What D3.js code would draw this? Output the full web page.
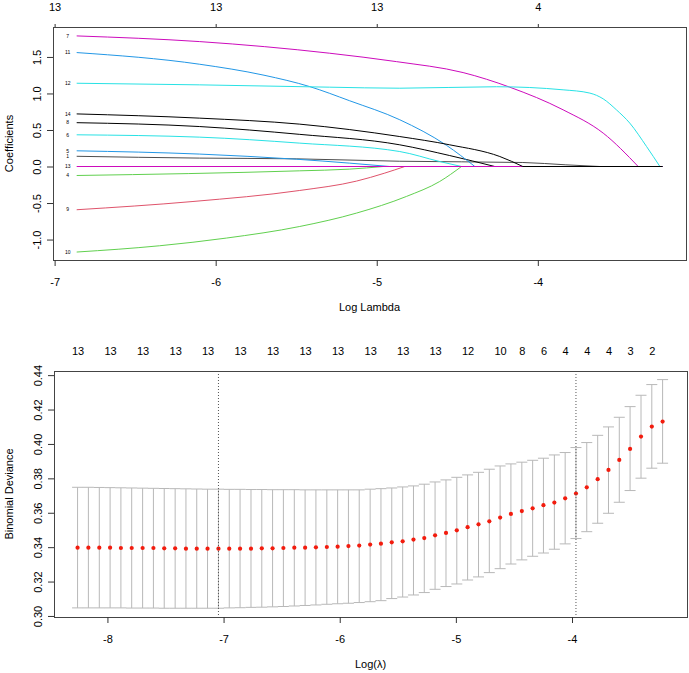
<!DOCTYPE html>
<html>
<head>
<meta charset="utf-8">
<script src="https://cdn.jsdelivr.net/npm/d3@7"></script>
<style>
  body { margin: 0; background: #fff; }
  svg { display: block; font-family: 'Liberation Sans', Arial, sans-serif; }
  .tick text { font-size: 11px; fill: #000; }
  .tick line { stroke: #333; }
  .axis-label { font-size: 11px; fill: #000; }
  .curve-label { font-size: 5px; fill: #000; }
</style>
</head>
<body>
<svg width="689" height="673"></svg>
<script>
const svg = d3.select('svg');

// ---- top panel: coefficient paths (log lambda, coefficient) ----
const coefLambdaEnd = -3.225;
const coefXTicks = [-7, -6, -5, -4];
const coefTopCounts = ['13', '13', '13', '4'];
const coefYTicks = [-1.0, -0.5, 0.0, 0.5, 1.0, 1.5];

const path1 = [[-6.863, 0.14], [-6.099, 0.115], [-5.5, 0.105], [-4.857, 0.072], [-4.093, 0.055], [-3.826, 0.023], [-3.615, 0]];
const path4 = [[-6.863, -0.123], [-5.478, -0.059], [-5.168, -0.036], [-4.96, 0]];
const path5 = [[-6.863, 0.215], [-6.099, 0.17], [-5.5, 0.1], [-5.168, 0.046], [-4.92, 0]];
const path6 = [[-6.863, 0.434], [-6.099, 0.402], [-5.478, 0.32], [-4.857, 0.205], [-4.609, 0.068], [-4.474, 0]];
const path7 = [[-6.863, 1.788], [-6.099, 1.71], [-5.292, 1.551], [-4.878, 1.436], [-4.464, 1.286], [-4.174, 1.086], [-3.843, 0.776], [-3.594, 0.457], [-3.377, 0]];
const path8 = [[-6.863, 0.60], [-6.099, 0.547], [-5.478, 0.44], [-4.857, 0.297], [-4.547, 0.15], [-4.267, 0]];
const path9 = [[-6.863, -0.592], [-6.141, -0.479], [-5.478, -0.328], [-5.126, -0.2], [-4.95, -0.09], [-4.826, 0]];
const path10 = [[-6.863, -1.171], [-6.348, -1.085], [-5.934, -0.98], [-5.478, -0.821], [-5.126, -0.638], [-4.816, -0.41], [-4.609, -0.205], [-4.474, 0]];
const path11 = [[-6.863, 1.56], [-6.099, 1.40], [-5.7, 1.25], [-5.416, 1.094], [-5.168, 0.90], [-4.857, 0.64], [-4.567, 0.29], [-4.391, 0]];
const path12 = [[-6.863, 1.14], [-6.099, 1.118], [-5.292, 1.086], [-4.857, 1.072], [-4.257, 1.092], [-3.843, 1.05], [-3.677, 1.005], [-3.594, 0.926], [-3.512, 0.776], [-3.429, 0.594], [-3.325, 0.274], [-3.242, 0]];
const path13 = [[-6.863, 0], [-3.225, 0]];
const path14 = [[-6.863, 0.72], [-6.099, 0.662], [-5.478, 0.58], [-4.857, 0.41], [-4.547, 0.297], [-4.236, 0.137], [-4.093, 0]];

const coefLabels = ['1', '4', '5', '6', '7', '8', '9', '10', '11', '12', '13', '14'];
const coefPaths = [path1, path4, path5, path6, path7, path8, path9, path10, path11, path12, path13, path14];
const coefColors = ['#4d4d4d', '#61D04F', '#2297E6', '#28E2E5', '#CD0BBC', '#000000',
                    '#DF536B', '#61D04F', '#2297E6', '#28E2E5', '#CD0BBC', '#000000'];

// ---- bottom panel: cross-validation curve ----
const cvLambda = [-8.257, -8.164, -8.070, -7.977, -7.884, -7.791, -7.697, -7.604, -7.511, -7.417,
  -7.324, -7.231, -7.138, -7.044, -6.951, -6.858, -6.764, -6.671, -6.578, -6.485,
  -6.391, -6.298, -6.205, -6.111, -6.018, -5.925, -5.832, -5.738, -5.645, -5.552,
  -5.458, -5.365, -5.272, -5.179, -5.085, -4.992, -4.899, -4.805, -4.712, -4.619,
  -4.526, -4.432, -4.339, -4.246, -4.152, -4.059, -3.966, -3.873, -3.779, -3.686,
  -3.593, -3.500, -3.406, -3.313, -3.220];
const cvm = [0.3397, 0.3397, 0.3397, 0.3397, 0.3395, 0.3395, 0.3395, 0.3395, 0.3393, 0.3393,
  0.3391, 0.3391, 0.3391, 0.3391, 0.3391, 0.3391, 0.3391, 0.3393, 0.3393, 0.3395,
  0.3397, 0.3397, 0.3399, 0.3401, 0.3403, 0.3406, 0.3409, 0.3415, 0.3420, 0.3428,
  0.3434, 0.3444, 0.3453, 0.3469, 0.3483, 0.3498, 0.3516, 0.3533, 0.3550, 0.3572,
  0.3593, 0.3610, 0.3626, 0.3644, 0.3659, 0.3684, 0.3712, 0.3748, 0.3795, 0.3849,
  0.3907, 0.3971, 0.4043, 0.4101, 0.4130];
const cvup = [0.3748, 0.3748, 0.3747, 0.3746, 0.3745, 0.3744, 0.3743, 0.3742, 0.3741, 0.3740,
  0.3739, 0.3738, 0.3737, 0.3737, 0.3736, 0.3736, 0.3735, 0.3735, 0.3734, 0.3734,
  0.3734, 0.3733, 0.3733, 0.3733, 0.3733, 0.3733, 0.3733, 0.3737, 0.3740, 0.3744,
  0.3750, 0.3756, 0.3766, 0.3779, 0.3791, 0.3806, 0.3820, 0.3835, 0.3853, 0.3872,
  0.3884, 0.3894, 0.3905, 0.3917, 0.3936, 0.3950, 0.3979, 0.4008, 0.4050, 0.4099,
  0.4155, 0.4217, 0.4283, 0.4345, 0.4374];
const cvlo = [0.3047, 0.3047, 0.3047, 0.3047, 0.3047, 0.3046, 0.3046, 0.3046, 0.3045, 0.3045,
  0.3045, 0.3045, 0.3045, 0.3045, 0.3047, 0.3048, 0.3050, 0.3051, 0.3053, 0.3055,
  0.3058, 0.3061, 0.3064, 0.3068, 0.3071, 0.3074, 0.3078, 0.3083, 0.3089, 0.3101,
  0.3110, 0.3122, 0.3136, 0.3155, 0.3171, 0.3186, 0.3209, 0.3227, 0.3252, 0.3275,
  0.3302, 0.3326, 0.3347, 0.3366, 0.3388, 0.3419, 0.3450, 0.3490, 0.3539, 0.3597,
  0.3661, 0.3729, 0.3801, 0.3859, 0.3888];
const lambdaMin = -7.044;
const lambda1se = -3.966;
const nzIndex = [0, 3, 6, 9, 12, 15, 18, 21, 24, 27, 30, 33, 36, 39, 41, 43, 45, 47, 49, 51, 53];
const nzLabels = ['13', '13', '13', '13', '13', '13', '13', '13', '13', '13', '13', '13',
                  '12', '10', '8', '6', '4', '4', '4', '3', '2'];
const cvXTicks = [-8, -7, -6, -5, -4];
const cvYTicks = [0.30, 0.32, 0.34, 0.36, 0.38, 0.40, 0.42, 0.44];

const drawBox = (g, box) => {
    g.append('rect')
        .attr('x', box.left + 0.5)
        .attr('y', box.top + 0.5)
        .attr('width', box.right - box.left)
        .attr('height', box.bottom - box.top)
        .attr('fill', 'none')
        .attr('stroke', '#444');
};

const leftAxis = (g, yScale, ticks, fmt, box) => {
    const yAxisG = g.append('g')
        .attr('transform', `translate(${box.left}, 0)`)
        .call(d3.axisLeft(yScale).tickValues(ticks).tickSize(6).tickFormat(fmt));
    yAxisG.select('.domain').remove();
    yAxisG.selectAll('text')
        .attr('transform', 'rotate(-90)')
        .attr('x', 0)
        .attr('y', -12)
        .attr('dy', 0)
        .style('text-anchor', 'middle');
};

const bottomAxis = (g, xScale, ticks, box) => {
    const xAxisG = g.append('g')
        .attr('transform', `translate(0, ${box.bottom})`)
        .call(d3.axisBottom(xScale).tickValues(ticks).tickSize(6).tickPadding(12).tickFormat(d => String(d)));
    xAxisG.select('.domain').remove();
};

const renderCoef = () => {
    const box = { left: 53, right: 686, top: 27, bottom: 260 };
    const xScale = d3.scaleLinear().domain([-7.01, -3.08]).range([box.left, box.right]);
    const yScale = d3.scaleLinear().domain([-1.28, 1.91]).range([box.bottom, box.top]);
    const g = svg.append('g');

    const curveLine = d3.line()
        .x(d => xScale(d[0]))
        .y(d => yScale(d[1]))
        .curve(d3.curveMonotoneX);
    const flatLine = d3.line()
        .x(d => xScale(d[0]))
        .y(d => yScale(d[1]));

    coefPaths.forEach((knots, i) => {
        g.append('path')
            .attr('d', curveLine(knots))
            .attr('fill', 'none')
            .attr('stroke', coefColors[i])
            .attr('stroke-width', 1);
        const last = knots[knots.length - 1];
        if (last[0] < coefLambdaEnd) {
            g.append('path')
                .attr('d', flatLine([last, [coefLambdaEnd, 0]]))
                .attr('fill', 'none')
                .attr('stroke', coefColors[i])
                .attr('stroke-width', 1);
        }
        g.append('text')
            .attr('class', 'curve-label')
            .attr('x', xScale(knots[0][0]) - 9)
            .attr('y', yScale(knots[0][1]))
            .attr('dy', '0.35em')
            .attr('text-anchor', 'middle')
            .text(coefLabels[i]);
    });

    drawBox(g, box);
    leftAxis(g, yScale, coefYTicks, d => d.toFixed(1), box);
    bottomAxis(g, xScale, coefXTicks, box);

    const topAxisG = g.append('g')
        .attr('transform', `translate(0, ${box.top})`)
        .call(d3.axisTop(xScale).tickValues(coefXTicks).tickSize(3).tickPadding(13)
            .tickFormat((d, i) => coefTopCounts[i]));
    topAxisG.select('.domain').remove();

    g.append('text')
        .attr('class', 'axis-label')
        .attr('text-anchor', 'middle')
        .attr('x', (box.left + box.right) / 2)
        .attr('y', box.bottom + 51)
        .text('Log Lambda');

    g.append('text')
        .attr('class', 'axis-label')
        .attr('text-anchor', 'middle')
        .attr('transform', `translate(13, ${(box.top + box.bottom) / 2}) rotate(-90)`)
        .text('Coefficients');
};

const renderCV = () => {
    const box = { left: 54, right: 687, top: 371, bottom: 617 };
    const xScale = d3.scaleLinear().domain([-8.46, -3.01]).range([box.left, box.right]);
    const yScale = d3.scaleLinear().domain([0.2994, 0.4424]).range([box.bottom, box.top]);
    const g = svg.append('g');
    const capHalf = 5.5;

    const bars = g.append('g').attr('stroke', '#b8b8b8').attr('stroke-width', 1);
    cvLambda.forEach((lam, i) => {
        const x = xScale(lam);
        bars.append('line').attr('x1', x).attr('x2', x).attr('y1', yScale(cvlo[i])).attr('y2', yScale(cvup[i]));
        bars.append('line').attr('x1', x - capHalf).attr('x2', x + capHalf).attr('y1', yScale(cvup[i])).attr('y2', yScale(cvup[i]));
        bars.append('line').attr('x1', x - capHalf).attr('x2', x + capHalf).attr('y1', yScale(cvlo[i])).attr('y2', yScale(cvlo[i]));
    });

    g.selectAll('circle.cvm')
        .data(cvm)
        .enter().append('circle')
        .attr('class', 'cvm')
        .attr('cx', (d, i) => xScale(cvLambda[i]))
        .attr('cy', d => yScale(d))
        .attr('r', 2.1)
        .attr('fill', '#f21c0e');

    [lambdaMin, lambda1se].forEach(lam => {
        g.append('line')
            .attr('x1', xScale(lam)).attr('x2', xScale(lam))
            .attr('y1', box.top).attr('y2', box.bottom)
            .attr('stroke', '#555')
            .attr('stroke-dasharray', '1,2');
    });

    drawBox(g, box);
    leftAxis(g, yScale, cvYTicks, d => d.toFixed(2), box);
    bottomAxis(g, xScale, cvXTicks, box);

    const topAxisG = g.append('g')
        .attr('transform', `translate(0, ${box.top})`)
        .call(d3.axisTop(xScale).tickValues(nzIndex.map(i => cvLambda[i])).tickSize(0).tickPadding(16)
            .tickFormat((d, i) => nzLabels[i]));
    topAxisG.select('.domain').remove();

    g.append('text')
        .attr('class', 'axis-label')
        .attr('text-anchor', 'middle')
        .attr('x', (box.left + box.right) / 2)
        .attr('y', box.bottom + 51)
        .text('Log(λ)');

    g.append('text')
        .attr('class', 'axis-label')
        .attr('text-anchor', 'middle')
        .attr('transform', `translate(13, ${(box.top + box.bottom) / 2}) rotate(-90)`)
        .text('Binomial Deviance');
};

renderCoef();
renderCV();
</script>
</body>
</html>
